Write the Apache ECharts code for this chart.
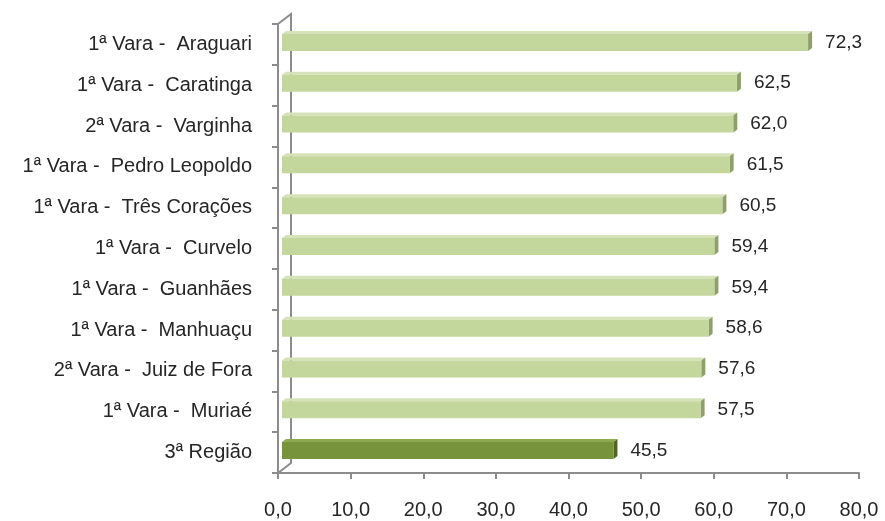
<!DOCTYPE html>
<html>
<head>
<meta charset="utf-8">
<script src="https://cdn.jsdelivr.net/npm/echarts@6/dist/echarts.min.js"></script>
<style>html,body{margin:0;padding:0;background:#fff}#c{width:885px;height:521px}</style>
</head>
<body>
<div id="c"></div>
<script>
var categories = ['1ª Vara -  Araguari','1ª Vara -  Caratinga','2ª Vara -  Varginha','1ª Vara -  Pedro Leopoldo','1ª Vara -  Três Corações','1ª Vara -  Curvelo','1ª Vara -  Guanhães','1ª Vara -  Manhuaçu','2ª Vara -  Juiz de Fora','1ª Vara -  Muriaé','3ª Região'];
var values = [72.3,62.5,62.0,61.5,60.5,59.4,59.4,58.6,57.6,57.5,45.5];
var highlight = [false,false,false,false,false,false,false,false,false,false,true];
var xTicks = [0,10,20,30,40,50,60,70,80];

var FONT = '"Liberation Sans", Arial, sans-serif';
var TXT = '#262626';
var light = {front:'#C3D69B', top:'#D6E3B8', side:'#8E9E6C'};
var dark = {front:'#77933C', top:'#8DAA52', side:'#4F6228'};

var chart = echarts.init(document.getElementById('c'), null, {renderer:'canvas'});

function fmt(v){ return v.toFixed(1).replace('.', ','); }

var data = values.map(function(v,i){ return [v, i]; });

chart.setOption({
  animation:false,
  backgroundColor:'#fff',
  grid:{left:278, right:26, top:24, bottom:48},
  xAxis:{
    type:'value', min:xTicks[0], max:xTicks[xTicks.length-1], interval:10,
    axisLine:{show:true, lineStyle:{color:'#8c8c8c', width:2}},
    axisTick:{show:true, length:6, lineStyle:{color:'#8c8c8c', width:2}},
    splitLine:{show:false},
    axisLabel:{formatter:function(v){return fmt(v);}, color:TXT, fontSize:20, fontFamily:FONT, margin:27}
  },
  yAxis:{
    type:'category', data:categories, inverse:true,
    axisLine:{show:true, lineStyle:{color:'#8c8c8c', width:2}},
    axisTick:{show:true, length:6, lineStyle:{color:'#8c8c8c', width:2}},
    axisLabel:{color:TXT, fontSize:20, fontFamily:FONT, margin:26, padding:[7,0,0,0]}
  },
  series:[{
    type:'custom',
    data:data,
    encode:{x:0, y:1},
    renderItem:function(params, api){
      var v = api.value(0), c = api.value(1);
      var p0 = api.coord([0, c]);
      var p1 = api.coord([v, c]);
      var h = 17;
      var dx1 = 4, dy1 = -2;
      var dx2 = 4, dy2 = -3;
      var col = highlight[params.dataIndex] ? dark : light;
      var x0 = p0[0] + dx1, x1 = p1[0] + dx1 + 1;
      var yt = p0[1] + dy1 - h/2, yb = yt + h;
      return {
        type:'group',
        children:[
          {type:'polygon', shape:{points:[[x0,yt],[x1,yt],[x1+dx2,yt+dy2],[x0+dx2,yt+dy2]]}, style:{fill:col.top}},
          {type:'polygon', shape:{points:[[x1,yt],[x1+dx2,yt+dy2],[x1+dx2,yb+dy2],[x1,yb]]}, style:{fill:col.side}},
          {type:'rect', shape:{x:x0, y:yt, width:x1-x0, height:h}, style:{fill:col.front}},
          {type:'text', x:x1+dx2+13, y:p0[1]+dy1, style:{text:fmt(v), fill:TXT, fontSize:19, fontFamily:FONT, verticalAlign:'middle', align:'left'}}
        ]
      };
    }
  }]
});

function drawWalls(){
  var a = chart.convertToPixel({xAxisIndex:0}, 0);
  var yTop = 24, yBot = 473;
  var dx = 13, dy = -10;
  chart.setOption({graphic:[
    {type:'polyline', z:-1, shape:{points:[[a,yTop],[a+dx,yTop+dy],[a+dx,yBot+dy],[a,yBot]]}, style:{stroke:'#8c8c8c', lineWidth:2, fill:null}}
  ]});
}
drawWalls();
</script>
</body>
</html>
